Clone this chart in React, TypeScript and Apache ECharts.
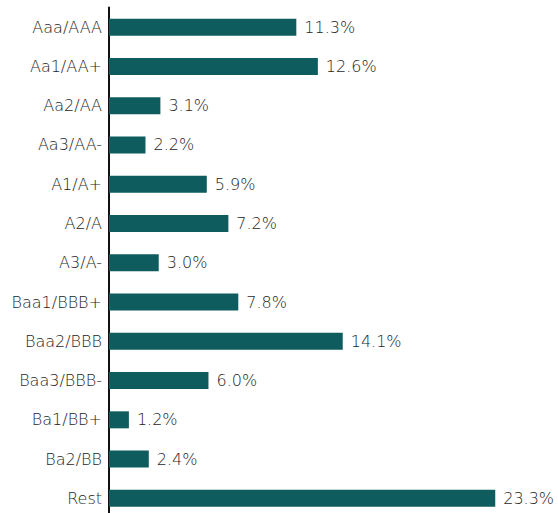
import React, { useEffect, useRef } from "react";
import * as echarts from "echarts";

const categories = [
  "Aaa/AAA",
  "Aa1/AA+",
  "Aa2/AA",
  "Aa3/AA-",
  "A1/A+",
  "A2/A",
  "A3/A-",
  "Baa1/BBB+",
  "Baa2/BBB",
  "Baa3/BBB-",
  "Ba1/BB+",
  "Ba2/BB",
  "Rest",
];
const values = [11.3, 12.6, 3.1, 2.2, 5.9, 7.2, 3.0, 7.8, 14.1, 6.0, 1.2, 2.4, 23.3];

const FONT = "'DejaVu Sans', 'Liberation Sans', Arial, sans-serif";

export default function App() {
  const ref = useRef<HTMLDivElement>(null);
  useEffect(() => {
    if (!ref.current) return;
    const chart = echarts.init(ref.current, null, { renderer: "svg" });
    chart.setOption({
      animation: false,
      backgroundColor: "#ffffff",
      grid: { left: 109, right: 18, top: 7.5, bottom: 0, containLabel: false },
      xAxis: {
        type: "value",
        min: 0,
        max: 26,
        show: false,
      },
      yAxis: {
        type: "category",
        data: categories,
        inverse: true,
        axisLine: { show: true, lineStyle: { color: "#111", width: 2 } },
        axisTick: { show: false },
        axisLabel: {
          margin: 7,
          fontSize: 16,
          fontWeight: 200,
          fontFamily: FONT,
          color: "#1e1e1e",
        },
        splitLine: { show: false },
      },
      series: [
        {
          type: "bar",
          data: values,
          barWidth: 17,
          itemStyle: { color: "#0e5c5e" },
          label: {
            show: true,
            position: "right",
            distance: 8,
            formatter: (p: any) => p.value.toFixed(1) + "%",
            fontSize: 16,
            fontWeight: 200,
            fontFamily: FONT,
            color: "#1e1e1e",
          },
        },
      ],
    });
    return () => chart.dispose();
  }, []);
  return (
    <div
      style={{
        position: "absolute",
        left: 0,
        top: 0,
        width: 558,
        height: 513,
        overflow: "hidden",
        background: "#fff",
      }}
    >
      <div ref={ref} style={{ width: 558, height: 518 }} />
    </div>
  );
}
